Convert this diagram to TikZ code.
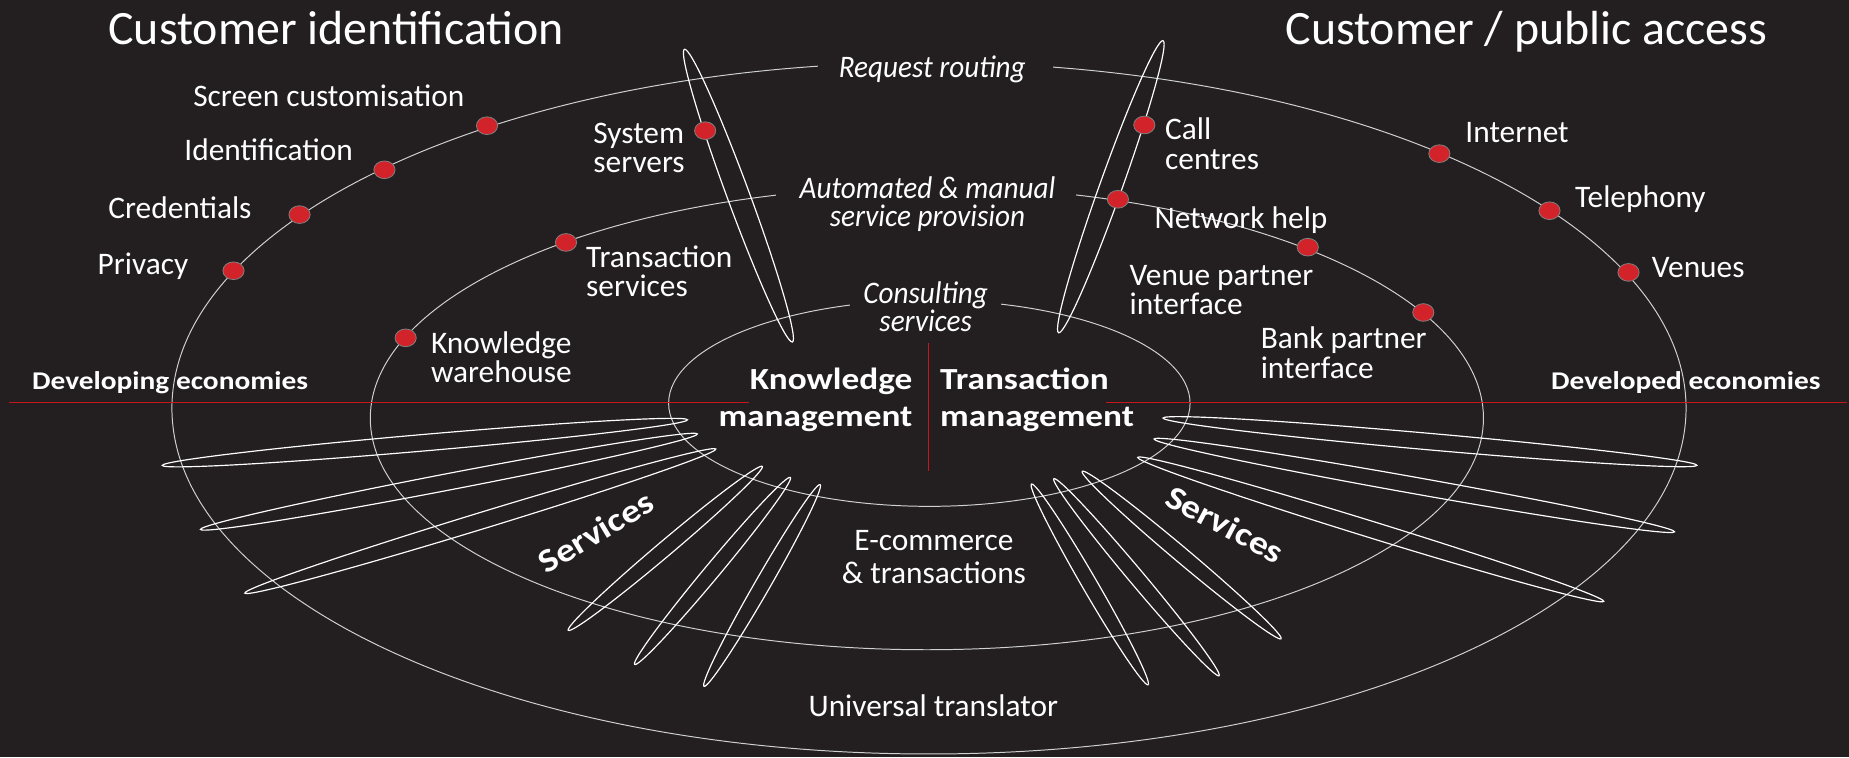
\documentclass[tikz,border=0pt]{standalone}
\usepackage{fontspec}
\setmainfont{Carlito}
\newfontfamily\bfam[FakeStretch=1.15]{Carlito Bold}
\newfontfamily\ifam[FakeStretch=0.93]{Carlito Italic}
\usetikzlibrary{calc,shapes.geometric}
\definecolor{bg}{HTML}{231F20}
\definecolor{ringgray}{HTML}{D0D0D0}
\definecolor{axisred}{HTML}{C8161D}
\definecolor{dotred}{HTML}{D2232A}
\definecolor{dotrim}{HTML}{808080}
\newcommand\LL[3]{\vtop{\baselineskip=#1pt\halign{##\hfil\cr#2\cr#3\cr}}}
\newcommand\CL[3]{\vtop{\baselineskip=#1pt\halign{\hfil##\hfil\cr#2\cr#3\cr}}}
\newcommand\RL[3]{\vtop{\baselineskip=#1pt\halign{\hfil##\cr#2\cr#3\cr}}}
\newcommand\petal[5]{%
  \draw[petalline] let \p1=(#1,#2), \p2=(#3,#4),
    \n1={atan2(\y2-\y1,\x2-\x1)}, \n2={veclen(\x2-\x1,\y2-\y1)/2} in
    ($(\p1)!0.5!(\p2)$) ellipse [x radius=\n2, y radius={#5*0.6pt}, rotate=\n1];}
\tikzset{
  ring/.style={draw=ringgray, line width=0.5pt},
  petalline/.style={draw=white, line width=0.6pt},
  axis/.style={draw=axisred, line width=0.8pt},
  dot/.style={ellipse, fill=dotred, draw=dotrim, line width=0.4pt,
    minimum width=10.8pt, minimum height=9pt, inner sep=0pt},
  txt/.style={text=white, inner sep=0pt, font={\fontsize{15.96pt}{19pt}\selectfont}},
  ttl/.style={text=white, inner sep=0pt, font={\fontsize{24.36pt}{29pt}\selectfont}},
  itx/.style={text=white, inner sep=0pt, font={\ifam\fontsize{15.96pt}{19pt}\selectfont}},
  btx/.style={text=white, inner sep=0pt, font={\bfam\fontsize{15.6pt}{19pt}\selectfont}},
  stx/.style={text=white, inner sep=0pt, font={\bfam\fontsize{13pt}{16pt}\selectfont}},
  svc/.style={text=white, inner sep=0pt, font={\bfam\fontsize{16.8pt}{20pt}\selectfont}},
}
\begin{document}
\begin{tikzpicture}[x=0.6pt, y=-0.6pt]
\fill[bg] (0,0) rectangle (1568,642);
\useasboundingbox (0,0) rectangle (1568,642);
% rings
\draw[ring] (787.8,346.2) ellipse [x radius=642, y radius=293.2];
\draw[ring] (786,354.6) ellipse [x radius=472, y radius=196.4];
\draw[ring] (788.1,342) ellipse [x radius=221.1, y radius=87.4];
% gaps for the ring titles
\fill[bg] (693.3,49) rectangle (892.6,64);
\fill[bg] (658.4,154) rectangle (912.8,171);
\fill[bg] (720.5,250) rectangle (848.7,263);
% axes
\draw[axis] (7.5,341.5) -- (635.2,341.5);
\draw[axis] (938,341.5) -- (1566,341.5);
\draw[axis] (787.5,291.2) -- (787.5,399.7);
% petals
\petal{580.4}{41.8}{672}{290}{9.5}
\petal{986.3}{34.5}{897.7}{282.2}{9.5}
\petal{137.6}{394.7}{583}{356}{7}
\petal{170}{449}{591.4}{368}{7}
\petal{207.6}{503}{607}{380.8}{7}
\petal{481.8}{534.6}{646.5}{395.5}{6.5}
\petal{538}{563.7}{670.5}{404.6}{6.5}
\petal{597}{582}{695.5}{411}{6.5}
\petal{986.3}{354.5}{1439}{394.6}{7}
\petal{978.7}{372.3}{1420}{451}{7}
\petal{964.8}{387.9}{1360}{510}{7}
\petal{917.7}{399.7}{1086.4}{541.7}{6.5}
\petal{893.7}{406}{1033.8}{573}{6.5}
\petal{874.7}{410.5}{973.6}{580.7}{6.5}
% dots
\node[dot] (dScreen) at (413,106.6) {};
\node[dot] (dIdent) at (326,144) {};
\node[dot] (dCred) at (254,182) {};
\node[dot] (dPriv) at (198,229.6) {};
\node[dot] (dInternet) at (1220.6,130.3) {};
\node[dot] (dTel) at (1314,178.7) {};
\node[dot] (dVenues) at (1381,231) {};
\node[dot] (dTrans) at (480,205.6) {};
\node[dot] (dKnow) at (344,286.5) {};
\node[dot] (dNet) at (1109,209.6) {};
\node[dot] (dBank) at (1207,265) {};
\node[dot] (dSys) at (598,110.8) {};
\node[dot] (dCall) at (970.4,106) {};
\node[dot] (dNet2) at (948,169) {};
% titles
\node[ttl, anchor=base west] (tLeft) at (91.6,37.6) {Customer identification};
\node[ttl, anchor=base west] (tRight) at (1089.8,37.6) {Customer / public access};
% ring titles
\node[itx, anchor=base] (rOuter) at (790.5,65.6) {Request routing};
\node[itx, anchor=base] (rMid) at (786.5,168.2) {\CL{14.4}{Automated \& manual}{service provision}};
\node[itx, anchor=base] (rIn) at (785,257.3) {\CL{14.4}{Consulting}{services}};
% left labels
\node[txt, anchor=base west] (lScreen) at (163.6,89.9) {Screen customisation};
\node[txt, anchor=base west] (lIdent) at (156.1,135.7) {Identification};
\node[txt, anchor=base west] (lCred) at (91.6,185.7) {Credentials};
\node[txt, anchor=base west] (lPriv) at (82.5,233.2) {Privacy};
\node[txt, anchor=base west] (lSys) at (502.9,121.5) {\LL{14.9}{System}{servers}};
\node[txt, anchor=base west] (lTrans) at (496.8,227) {\LL{14.8}{Transaction}{services}};
\node[txt, anchor=base west] (lKnow) at (365.2,299.6) {\LL{15}{Knowledge}{warehouse}};
\node[stx, anchor=base west] (lDev) at (26.9,330.2) {Developing economies};
% right labels
\node[txt, anchor=base west] (lCall) at (987.7,118.7) {\LL{14.8}{Call}{centres}};
\node[txt, anchor=base west] (lInternet) at (1242.4,121) {Internet};
\node[txt, anchor=base west] (lTel) at (1335.4,175.8) {Telephony};
\node[txt, anchor=base west] (lVenues) at (1400.5,235.5) {Venues};
\node[txt, anchor=base west] (lNet) at (978.7,193.6) {Network help};
\node[txt, anchor=base west] (lVenueP) at (957.7,241.7) {\LL{15.2}{Venue partner}{interface}};
\node[txt, anchor=base west] (lBank) at (1068.8,295.4) {\LL{15.3}{Bank partner}{interface}};
\node[stx, anchor=base west] (lDevd) at (1315,330.5) {Developed economies};
% centre
\node[btx, anchor=base east] (cKM) at (774,330.2) {\RL{19}{Knowledge}{management}};
\node[btx, anchor=base west] (cTM) at (797,330.2) {\LL{19}{Transaction}{management}};
\node[txt, anchor=base] (cEcom) at (792,467) {\CL{16.6}{E-commerce}{\& transactions}};
\node[txt, anchor=base] (cUni) at (791.5,607.8) {Universal translator};
\node[svc, rotate=31] (sLeft) at (505.3,451.2) {Services};
\node[svc, rotate=-28] (sRight) at (1038.9,444.4) {Services};
\end{tikzpicture}
\end{document}
